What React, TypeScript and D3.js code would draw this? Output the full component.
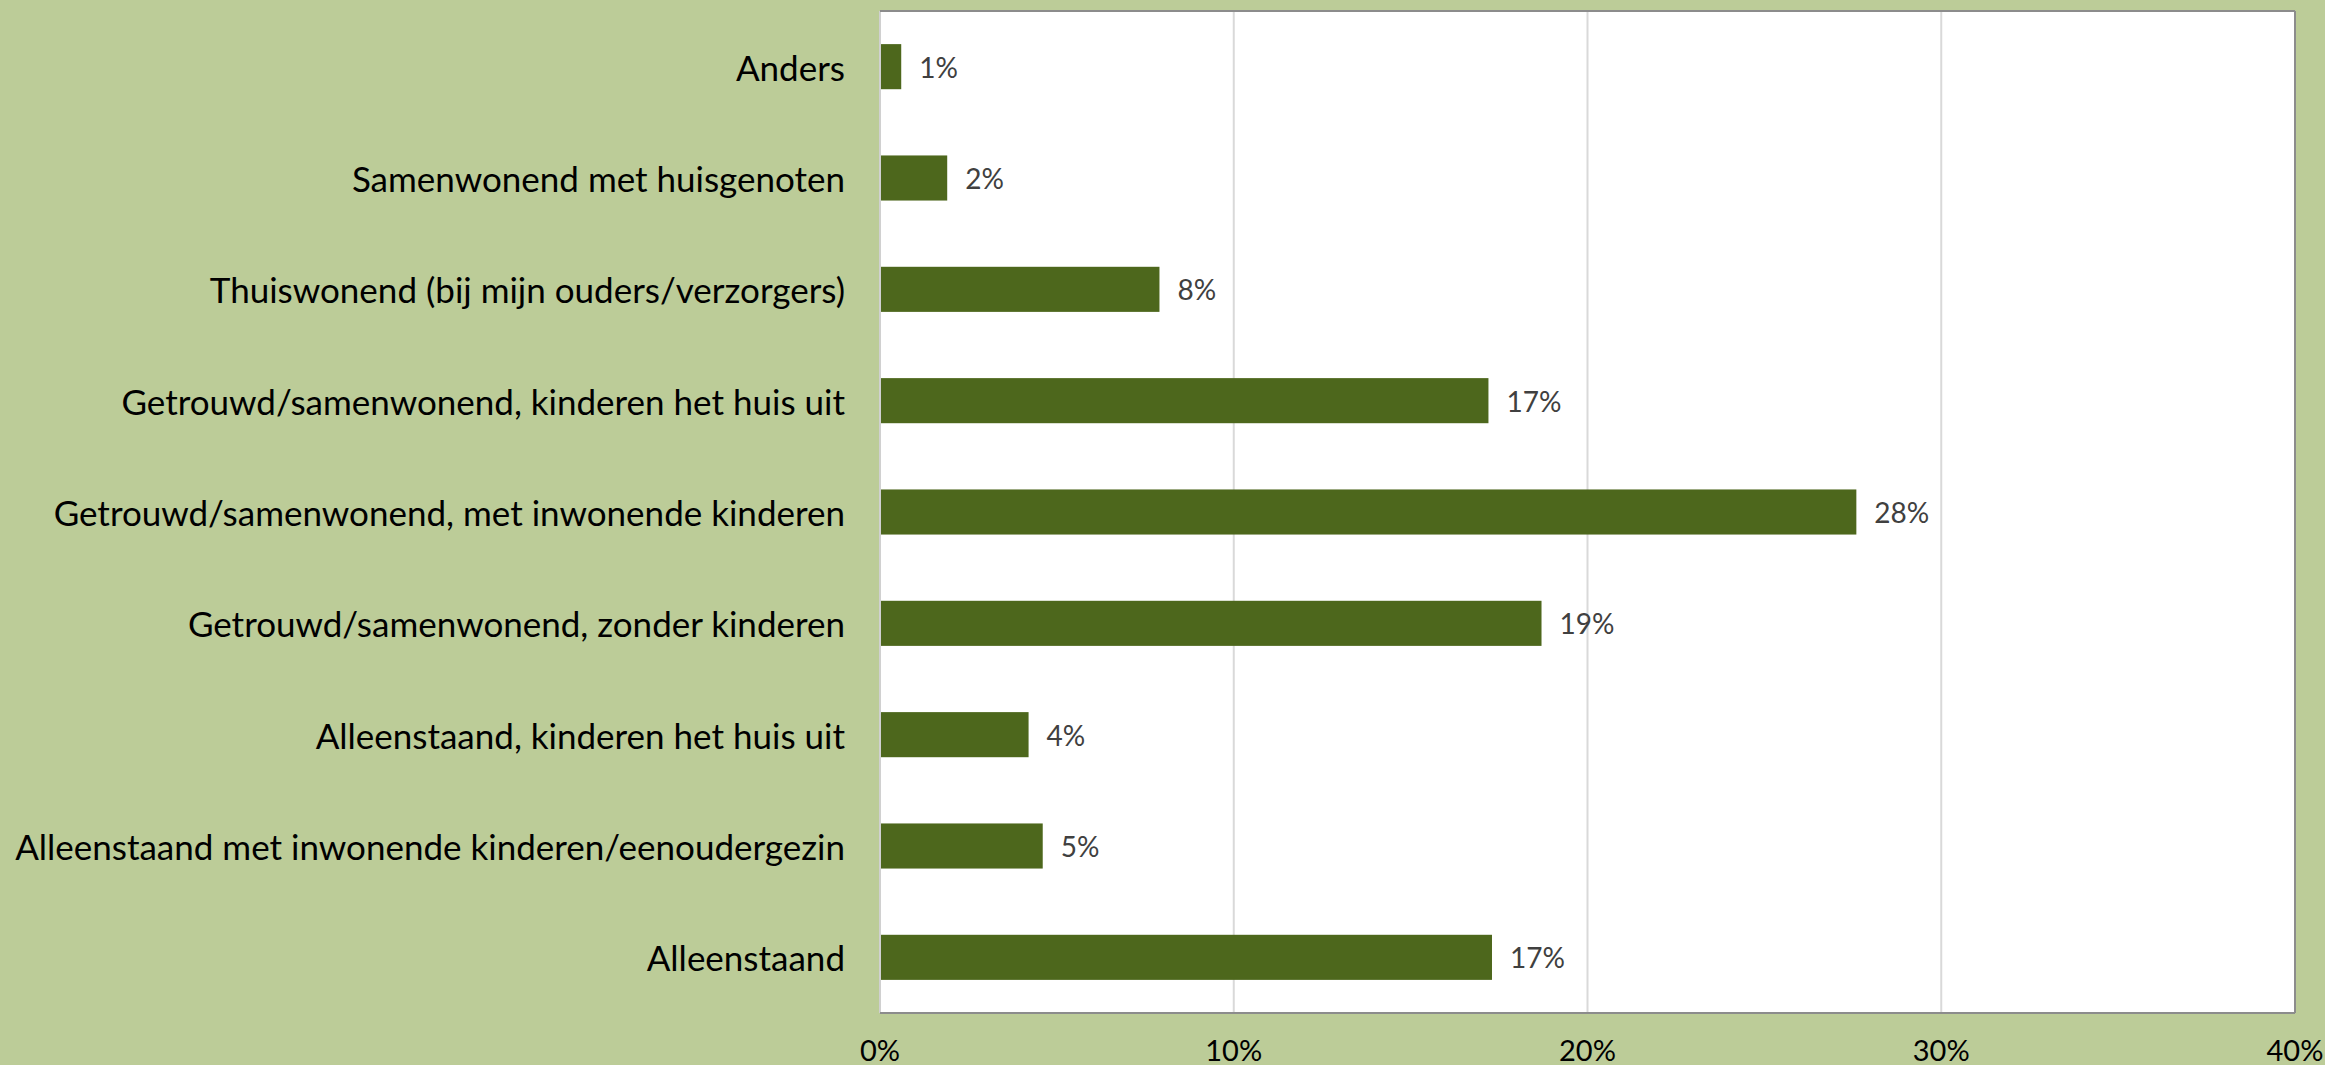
import React from "react";
import * as d3 from "d3";

const categories = [
  "Anders",
  "Samenwonend met huisgenoten",
  "Thuiswonend (bij mijn ouders/verzorgers)",
  "Getrouwd/samenwonend, kinderen het huis uit",
  "Getrouwd/samenwonend, met inwonende kinderen",
  "Getrouwd/samenwonend, zonder kinderen",
  "Alleenstaand, kinderen het huis uit",
  "Alleenstaand met inwonende kinderen/eenoudergezin",
  "Alleenstaand",
];
const values = [0.6, 1.9, 7.9, 17.2, 27.6, 18.7, 4.2, 4.6, 17.3];
const ticks = [0, 10, 20, 30, 40];

const W = 2325;
const H = 1065;
const plot = { left: 880, right: 2295, top: 11, bottom: 1013 };
const FONT = "Lato, 'Open Sans', sans-serif";

export default function App() {
  const x = d3.scaleLinear().domain([0, 40]).range([plot.left, plot.right]);
  const y = d3
    .scaleBand<string>()
    .domain(categories)
    .range([plot.top, plot.bottom])
    .paddingInner(0.595)
    .paddingOuter(0.2975);

  return (
    <svg
      width={W}
      height={H}
      style={{ position: "fixed", left: 0, top: 0, display: "block" }}
    >
      <rect x={0} y={0} width={W} height={H} fill="#bccc98" />
      <rect
        x={plot.left}
        y={plot.top}
        width={plot.right - plot.left}
        height={plot.bottom - plot.top}
        fill="#ffffff"
      />
      {ticks.slice(1, -1).map((t) => (
        <line
          key={t}
          x1={x(t)}
          x2={x(t)}
          y1={plot.top}
          y2={plot.bottom}
          stroke="#d9d9d9"
          strokeWidth={2}
        />
      ))}
      {categories.map((c, i) => (
        <rect
          key={c}
          x={x(0)}
          y={y(c)}
          width={x(values[i]) - x(0)}
          height={y.bandwidth()}
          fill="#4d671c"
        />
      ))}
      {categories.map((c, i) => (
        <text
          key={"v" + c}
          x={x(values[i]) + 18}
          y={(y(c) as number) + y.bandwidth() / 2}
          dominantBaseline="central"
          fontFamily={FONT}
          fontSize={28}
          fill="#404040"
        >
          {Math.round(values[i]) + "%"}
        </text>
      ))}
      {categories.map((c) => (
        <text
          key={"c" + c}
          x={845}
          y={(y(c) as number) + y.bandwidth() / 2}
          dominantBaseline="central"
          textAnchor="end"
          fontFamily={FONT}
          fontSize={35}
          fill="#000000"
        >
          {c}
        </text>
      ))}
      {/* plot border */}
      <line x1={plot.left} x2={plot.left} y1={plot.top} y2={plot.bottom} stroke="#d0d0d0" strokeWidth={2} />
      <line x1={plot.left} x2={plot.right} y1={plot.top} y2={plot.top} stroke="#8c8c8c" strokeWidth={2} />
      <line x1={plot.right} x2={plot.right} y1={plot.top} y2={plot.bottom} stroke="#8c8c8c" strokeWidth={2} />
      <line x1={plot.left} x2={plot.right} y1={plot.bottom} y2={plot.bottom} stroke="#8c8c8c" strokeWidth={2} />
      {ticks.map((t) => (
        <text
          key={"t" + t}
          x={x(t)}
          y={1061}
          textAnchor="middle"
          fontFamily={FONT}
          fontSize={29}
          fill="#000000"
        >
          {t + "%"}
        </text>
      ))}
    </svg>
  );
}
